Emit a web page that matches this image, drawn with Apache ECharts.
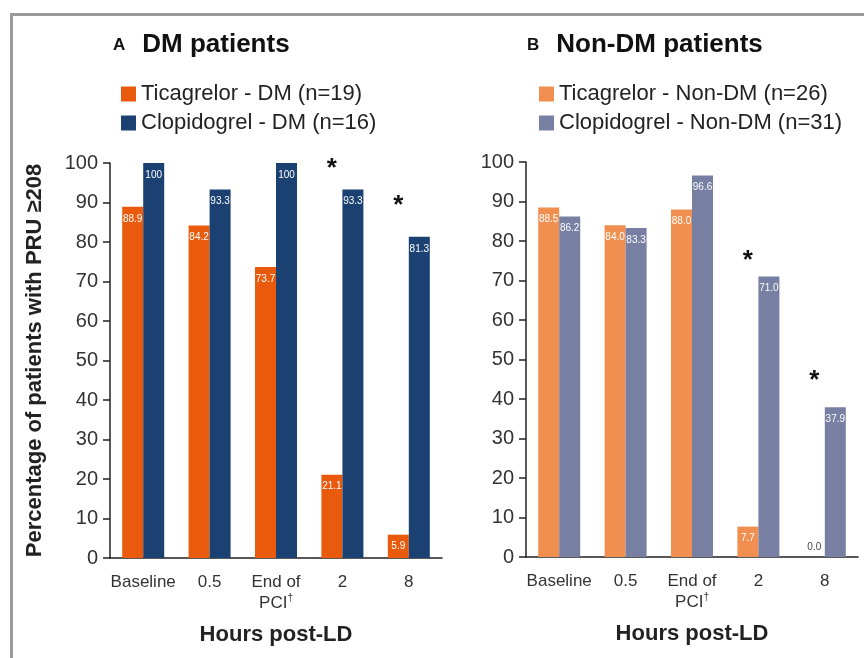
<!DOCTYPE html>
<html>
<head>
<meta charset="utf-8">
<script src="https://cdn.jsdelivr.net/npm/echarts@6/dist/echarts.min.js"></script>
<style>
html,body{margin:0;padding:0;background:#fff;}
#chart{width:864px;height:658px;}
</style>
</head>
<body>
<div id="chart"></div>
<script>
// ---- data ----
const categories = ['Baseline', '0.5', 'End of\nPCI†', '2', '8'];
const ticagrelorDM = [88.9, 84.2, 73.7, 21.1, 5.9];
const clopidogrelDM = [100, 93.3, 100, 93.3, 81.3];
const ticagrelorNonDM = [88.5, 84.0, 88.0, 7.7, 0.0];
const clopidogrelNonDM = [86.2, 83.3, 96.6, 71.0, 37.9];
// significance asterisk heights (value level of the star, above the ticagrelor bar)
const starDM = [null, null, null, 100, 90.6];
const starNonDM = [null, null, null, 76.5, 46];
const yMin = 0, yMax = 100, yStep = 10;
const seriesNames = {
  tDM: 'Ticagrelor - DM (n=19)',
  cDM: 'Clopidogrel - DM (n=16)',
  tN: 'Ticagrelor - Non-DM (n=26)',
  cN: 'Clopidogrel - Non-DM (n=31)'
};

const FONT = '"Liberation Sans", Arial, Helvetica, sans-serif';
const TXT = '#222';

const chart = echarts.init(document.getElementById('chart'));

function fmt(v) { return v === 100 ? '100' : v.toFixed(1); }

function barSeries(name, data, color, axisIdx, stack) {
  return {
    name: name, type: 'bar', xAxisIndex: axisIdx, yAxisIndex: axisIdx,
    stack: stack, barWidth: 21, barGap: '0%',
    itemStyle: { color: color },
    data: data.map(v => v === 0 ? {
      value: v,
      label: { position: 'top', color: '#444', distance: 5 }
    } : v),
    label: {
      show: true, position: 'insideTop', distance: 7,
      color: '#fff', fontSize: 10, fontFamily: FONT,
      formatter: p => fmt(p.value)
    },
    z: 2
  };
}

function starSeries(stars, base, axisIdx, stack) {
  return {
    name: 'star' + axisIdx, type: 'bar', xAxisIndex: axisIdx, yAxisIndex: axisIdx,
    stack: stack, barWidth: 21, barGap: '0%',
    itemStyle: { color: 'rgba(0,0,0,0)' },
    data: stars.map((s, i) => s == null ? '-' : s - base[i]),
    label: {
      show: true, position: 'top', distance: 0, verticalAlign: 'middle',
      offset: [0, 6],
      color: '#111', fontSize: 26, fontWeight: 'bold', fontFamily: FONT,
      formatter: '*'
    },
    silent: true, z: 1
  };
}

function xAxis(gridIndex) {
  return {
    type: 'category', gridIndex: gridIndex, data: categories,
    axisLine: { lineStyle: { color: TXT, width: 1.5 } },
    axisTick: { length: 11, lineStyle: { color: TXT, width: 1.5 } },
    axisLabel: {
      interval: 0,
      color: '#333', fontSize: 17, fontFamily: FONT, margin: 14, lineHeight: 21,
      formatter: v => v.replace('†', '{sup|†}'),
      rich: { sup: { fontSize: 10, verticalAlign: 'top', color: '#333', fontFamily: FONT, padding: [0, 0, 6, 0] } }
    },
    name: 'Hours post-LD', nameLocation: 'middle', nameGap: 66,
    nameTextStyle: { color: TXT, fontSize: 22, fontWeight: 'bold', fontFamily: FONT }
  };
}

function yAxis(gridIndex, withName) {
  return {
    type: 'value', gridIndex: gridIndex, min: yMin, max: yMax, interval: yStep,
    axisLine: { show: true, lineStyle: { color: TXT, width: 1.5 } },
    axisTick: { show: true, length: 7, lineStyle: { color: TXT, width: 1.5 } },
    splitLine: { show: false },
    axisLabel: { color: '#333', fontSize: 20, fontFamily: FONT, margin: 12 },
    name: withName ? 'Percentage of patients with PRU ≥208' : '',
    nameLocation: 'middle', nameGap: 64, nameRotate: 90,
    nameTextStyle: { color: TXT, fontSize: 22, fontWeight: 'bold', fontFamily: FONT }
  };
}

const titleRich = {
  a: { fontSize: 17, fontWeight: 'bold', color: '#111', fontFamily: FONT },
  g: { width: 17 },
  b: { fontSize: 26, fontWeight: 'bold', color: '#111', fontFamily: FONT }
};

const legendText = { fontSize: 22, color: TXT, fontFamily: FONT };

const option = {
  backgroundColor: '#fff',
  animation: false,
  graphic: [
    { type: 'rect', shape: { x: 10, y: 13, width: 854, height: 3 }, style: { fill: '#9a9a9a' } },
    { type: 'rect', shape: { x: 10, y: 13, width: 3, height: 645 }, style: { fill: '#9a9a9a' } }
  ],
  title: [
    { left: 108, top: 27, text: '{a|A}{g|}{b|DM patients}', textStyle: { rich: titleRich } },
    { left: 522, top: 27, text: '{a|B}{g|}{b|Non-DM patients}', textStyle: { rich: titleRich } }
  ],
  legend: [
    {
      orient: 'vertical', left: 121, top: 83, padding: 0, itemWidth: 15, itemHeight: 15, itemGap: 7,
      data: [seriesNames.tDM, seriesNames.cDM], icon: 'rect', textStyle: legendText
    },
    {
      orient: 'vertical', left: 539, top: 83, padding: 0, itemWidth: 15, itemHeight: 15, itemGap: 7,
      data: [seriesNames.tN, seriesNames.cN], icon: 'rect', textStyle: legendText
    }
  ],
  grid: [
    { left: 110, top: 163, width: 332, height: 395 },
    { left: 526, top: 162, width: 332, height: 395 }
  ],
  xAxis: [xAxis(0), xAxis(1)],
  yAxis: [yAxis(0, true), yAxis(1, false)],
  series: [
    barSeries(seriesNames.tDM, ticagrelorDM, '#E95A0C', 0, 'sA'),
    starSeries(starDM, ticagrelorDM, 0, 'sA'),
    barSeries(seriesNames.cDM, clopidogrelDM, '#1B4072', 0, undefined),
    barSeries(seriesNames.tN, ticagrelorNonDM, '#F08F50', 1, 'sB'),
    starSeries(starNonDM, ticagrelorNonDM, 1, 'sB'),
    barSeries(seriesNames.cN, clopidogrelNonDM, '#777FA3', 1, undefined)
  ]
};
chart.setOption(option);
</script>
</body>
</html>
